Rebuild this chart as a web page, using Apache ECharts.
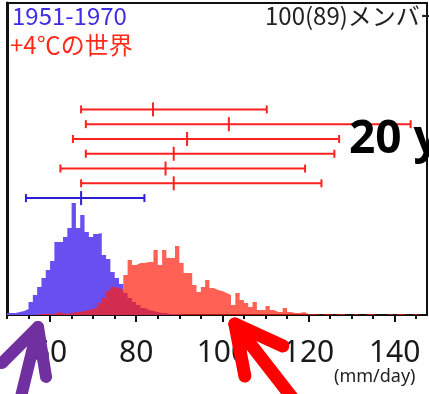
<!DOCTYPE html>
<html>
<head>
<meta charset="utf-8">
<script src="https://cdn.jsdelivr.net/npm/echarts@6/dist/echarts.min.js"></script>
<style>
html, body { margin: 0; padding: 0; background: #fff; }
#chart { width: 429px; height: 394px; }
</style>
</head>
<body>
<div id="chart"></div>
<script>
// ヒストグラム: 1 mm/day 幅のビン, 50 から始まる
const binStart = 50;
const binWidth = 1;
// 1951-1970 (相対頻度)
const pastCounts = [2, 2, 3, 4, 6, 13, 20, 28, 37, 45,
  54, 73, 73, 78, 87, 112, 87, 100, 83, 78,
  81, 82, 60, 56, 43, 37, 31, 22, 17, 13,
  10, 7, 5, 4, 3, 2, 2, 1, 1, 1, 1];
// +4℃の世界 (相対頻度)
const futureCounts = [0, 0, 0, 0, 0, 0, 0, 1, 1, 1,
  1, 3, 2, 1, 2, 3, 3, 4, 5, 6,
  8, 12, 17, 24, 28, 27, 25, 40, 55, 50,
  52, 52, 53, 53, 65, 50, 65, 57, 57, 69,
  52, 42, 42, 30, 23, 28, 35, 27, 25, 24,
  22, 20, 10, 22, 15, 12, 8, 13, 5, 5,
  9, 5, 3, 3, 7, 3, 2, 2, 3, 1,
  1, 1, 0, 1, 1, 0, 1, 1, 0, 0,
  1, 0, 0, 1, 1, 0, 0, 0, 1, 0,
  1, 1, 0, 0, 1, 0, 0];
// エラーバー [下限, 平均, 上限] (上から順に)
const futureBars = [
  [67.2, 83.9, 110.3],
  [68.3, 101.5, 143.7],
  [65.3, 91.8, 127.1],
  [68.3, 88.7, 126.0],
  [62.4, 86.8, 119.2],
  [67.2, 88.7, 123.0]
];
const pastBar = [54.4, 67.2, 81.9];
// 軸
const xMin = 50, xMax = 147.5;
const majorTicks = [60, 80, 100, 120, 140];
const minorTicks = [50, 55, 65, 70, 75, 85, 90, 95, 105, 110, 115, 125, 130, 135, 145];
// 矢印が指す値
const pastArrowAt = 57.2;
const futureArrowAt = 102.9;

const chart = echarts.init(document.getElementById('chart'));

// ステップ線で塗りつぶし用の点列を作る
function stepPoints(counts) {
  const pts = counts.map((c, i) => [binStart + i * binWidth, c]);
  pts.push([binStart + counts.length * binWidth, 0]);
  return pts;
}

// エラーバーの描画
function renderErrorBar(params, api) {
  const row = api.value(0);
  const lo = api.coord([api.value(1), row]);
  const mid = api.coord([api.value(2), row]);
  const hi = api.coord([api.value(3), row]);
  const style = { stroke: api.visual('color'), lineWidth: 2 };
  const cap = 4, tick = 7;
  return {
    type: 'group',
    children: [
      { type: 'line', shape: { x1: lo[0], y1: lo[1], x2: hi[0], y2: hi[1] }, style },
      { type: 'line', shape: { x1: lo[0], y1: lo[1] - cap, x2: lo[0], y2: lo[1] + cap }, style },
      { type: 'line', shape: { x1: hi[0], y1: hi[1] - cap, x2: hi[0], y2: hi[1] + cap }, style },
      { type: 'line', shape: { x1: mid[0], y1: mid[1] - tick, x2: mid[0], y2: mid[1] + tick }, style }
    ]
  };
}

const rowNames = ['r1', 'r2', 'r3', 'r4', 'r5', 'r6', 'past'];
const futureData = futureBars.map((b, i) => [i].concat(b));
const pastData = [[6].concat(pastBar)];

const jpFont = '"Noto Sans CJK JP", "Noto Sans", sans-serif';

chart.setOption({
  animation: false,
  grid: [
    { left: 7, right: 2, top: 3, bottom: 79, show: true, borderColor: '#111', borderWidth: 2 },
    { left: 7, right: 2, top: 102, height: 103.5 }
  ],
  xAxis: [
    {
      type: 'value', gridIndex: 0, min: xMin, max: xMax, position: 'bottom',
      splitLine: { show: false },
      axisLine: { show: true, onZero: false, lineStyle: { color: '#111', width: 2 } },
      axisTick: { show: true, customValues: minorTicks, length: 4, lineStyle: { color: '#111', width: 2 } },
      axisLabel: { show: false }
    },
    {
      type: 'value', gridIndex: 0, min: xMin, max: xMax, position: 'bottom',
      splitLine: { show: false },
      axisLine: { show: false },
      axisTick: { show: true, customValues: majorTicks, length: 7, lineStyle: { color: '#111', width: 2 } },
      axisLabel: {
        show: true, customValues: majorTicks, margin: 23,
        fontSize: 30, color: '#1a1a1a', fontFamily: '"Noto Sans", sans-serif'
      }
    },
    { type: 'value', gridIndex: 1, min: xMin, max: xMax, show: false }
  ],
  yAxis: [
    {
      type: 'value', gridIndex: 0, min: 0, max: 312,
      splitLine: { show: false },
      axisLine: { show: true, lineStyle: { color: '#111', width: 3 } },
      axisTick: { show: false }, axisLabel: { show: false }
    },
    { type: 'category', gridIndex: 1, data: rowNames, inverse: true, show: false }
  ],
  series: [
    {
      name: '1951-1970', type: 'line', xAxisIndex: 0, yAxisIndex: 0,
      step: 'end', symbol: 'none', data: stepPoints(pastCounts),
      lineStyle: { width: 0 }, areaStyle: { color: '#6a4ff0', opacity: 1 }, z: 1
    },
    {
      name: '+4℃の世界', type: 'line', xAxisIndex: 0, yAxisIndex: 0,
      step: 'end', symbol: 'none', data: stepPoints(futureCounts),
      lineStyle: { width: 0 }, areaStyle: { color: 'rgba(255,32,12,0.7)', opacity: 1 }, z: 2
    },
    {
      type: 'custom', xAxisIndex: 2, yAxisIndex: 1, renderItem: renderErrorBar,
      data: futureData, itemStyle: { color: '#ff2020' }, encode: { x: [1, 2, 3], y: 0 }, z: 5
    },
    {
      type: 'custom', xAxisIndex: 2, yAxisIndex: 1, renderItem: renderErrorBar,
      data: pastData, itemStyle: { color: '#2d1ed8' }, encode: { x: [1, 2, 3], y: 0 }, z: 5
    }
  ],
  graphic: [
    { id: 't1', type: 'text', x: 12, y: 4, z: 10,
      style: { text: '1951-1970', font: '24px ' + jpFont, fill: '#3d2ee6', verticalAlign: 'top' } },
    { id: 't2', type: 'text', x: 10, y: 33, z: 10,
      style: { text: '+4℃の世界', font: '24px ' + jpFont, fill: '#ff2a1a', verticalAlign: 'top' } },
    { id: 't3', type: 'text', x: 265, y: 4, z: 10,
      style: { text: '100(89)メンバー', font: '24px ' + jpFont, fill: '#222', verticalAlign: 'top' } },
    { id: 't4', type: 'text', x: 349, y: 117, z: 10,
      style: { text: '20 years', font: 'bold 46px "Open Sans", "Noto Sans", sans-serif', fill: '#000', verticalAlign: 'top' } },
    { id: 't5', type: 'text', x: 334, y: 368, z: 10,
      style: { text: '(mm/day)', font: '18px "Noto Sans", sans-serif', fill: '#222', verticalAlign: 'top' } }
  ]
});

// 矢印: 指す位置はデータ値から求める
const axisY = chart.convertToPixel({ yAxisIndex: 0 }, 0);
function arrowParts(id, tipX, tipY, shaft, wingA, wingB, color, width) {
  const style = { stroke: color, lineWidth: width, lineCap: 'round', lineJoin: 'round', fill: null };
  return [
    { id: id + 's', type: 'polyline', z: 20, shape: { points: [[tipX, tipY], [tipX + shaft[0], tipY + shaft[1]]] }, style },
    { id: id + 'w', type: 'polyline', z: 20, shape: { points: [[tipX + wingA[0], tipY + wingA[1]], [tipX, tipY], [tipX + wingB[0], tipY + wingB[1]]] }, style }
  ];
}
const px = chart.convertToPixel({ xAxisIndex: 0 }, pastArrowAt);
const fx = chart.convertToPixel({ xAxisIndex: 0 }, futureArrowAt);
chart.setOption({
  graphic: arrowParts('pa', px, axisY + 12, [-22, 90], [-36, 36], [8, 50], '#7030a0', 12)
    .concat(arrowParts('fa', fx, axisY + 9, [70, 90], [48, 22], [10, 52], '#ff0000', 13))
});
</script>
</body>
</html>
